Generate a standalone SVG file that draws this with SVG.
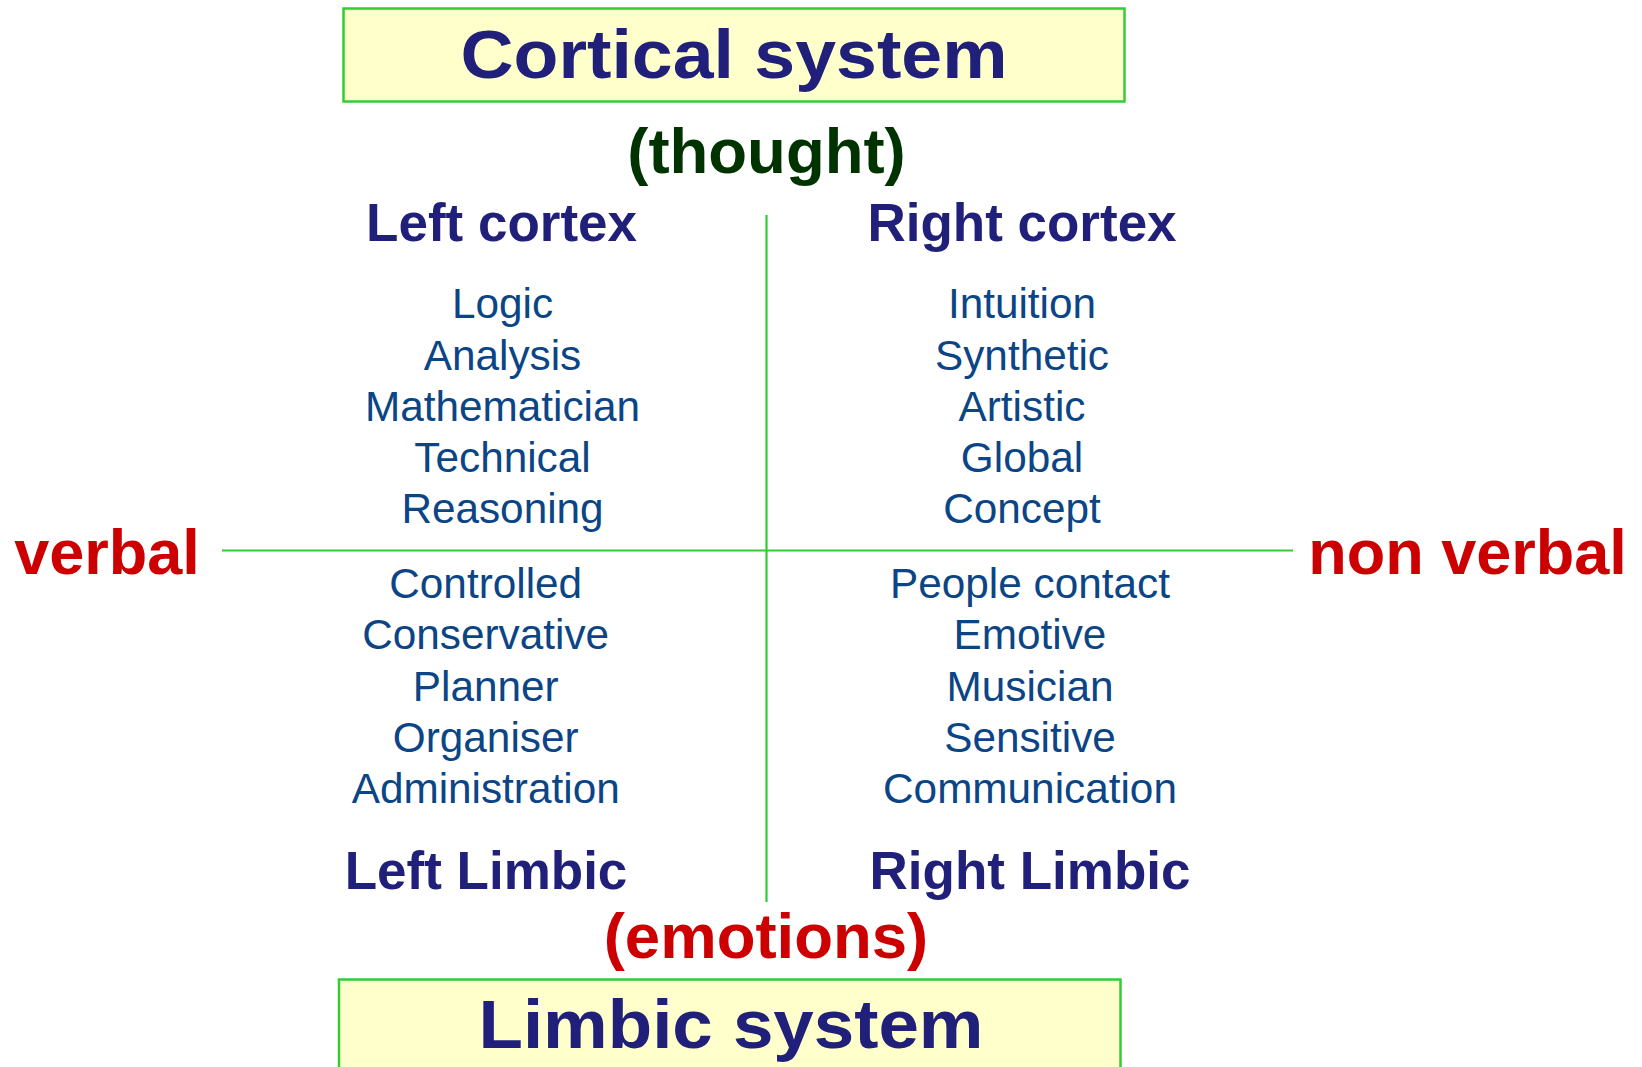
<svg xmlns="http://www.w3.org/2000/svg" width="1642" height="1067" viewBox="0 0 1642 1067">
  <style>
    .box { fill: #ffffcc; stroke: #33cc33; stroke-width: 2.5; }
    .axis { stroke: #33cc33; stroke-width: 2.2; fill: none; }
    .title { font-family: "Liberation Sans", Arial, sans-serif; font-weight: bold; font-size: 68px; fill: #20207a; text-anchor: middle; }
    .head { font-family: "Liberation Sans", Arial, sans-serif; font-weight: bold; font-size: 53px; fill: #20207a; text-anchor: middle; }
    .item { font-family: "Liberation Sans", Arial, sans-serif; font-size: 42.3px; fill: #0b4585; text-anchor: middle; }
    .sub { font-family: "Liberation Sans", Arial, sans-serif; font-weight: bold; font-size: 63.5px; text-anchor: middle; }
    .side { font-family: "Liberation Sans", Arial, sans-serif; font-weight: bold; font-size: 63px; fill: #cc0000; text-anchor: middle; }
  </style>
  <rect width="1642" height="1067" fill="#ffffff"/>

  <!-- axes splitting the four quadrants -->
  <g id="connectors">
    <line class="axis" x1="766.5" y1="215" x2="766.5" y2="902"/>
    <line class="axis" x1="222" y1="550.5" x2="1293" y2="550.5"/>
  </g>

  <g id="cortical-system">
    <rect class="box" x="343.5" y="8.5" width="781" height="93"/>
    <text class="title" x="734" y="77.5" textLength="547" lengthAdjust="spacingAndGlyphs">Cortical system</text>
  </g>
  <g id="thought">
    <text class="sub" x="766.5" y="173" fill="#003300">(thought)</text>
  </g>

  <g id="left-cortex">
    <text class="head" x="501.6" y="241">Left cortex</text>
    <text class="item" x="502.5" y="318">Logic</text>
    <text class="item" x="502.5" y="369.5">Analysis</text>
    <text class="item" x="502.5" y="420.5">Mathematician</text>
    <text class="item" x="502.5" y="471.5">Technical</text>
    <text class="item" x="502.5" y="522.5">Reasoning</text>
  </g>

  <g id="right-cortex">
    <text class="head" x="1022" y="241">Right cortex</text>
    <text class="item" x="1022" y="318">Intuition</text>
    <text class="item" x="1022" y="369.5">Synthetic</text>
    <text class="item" x="1022" y="420.5">Artistic</text>
    <text class="item" x="1022" y="471.5">Global</text>
    <text class="item" x="1022" y="522.5">Concept</text>
  </g>

  <g id="left-limbic">
    <text class="item" x="485.7" y="597.5">Controlled</text>
    <text class="item" x="485.7" y="649">Conservative</text>
    <text class="item" x="485.7" y="700.5">Planner</text>
    <text class="item" x="485.7" y="751.5">Organiser</text>
    <text class="item" x="485.7" y="802.5">Administration</text>
    <text class="head" x="486" y="889">Left Limbic</text>
  </g>

  <g id="right-limbic">
    <text class="item" x="1030" y="597.5">People contact</text>
    <text class="item" x="1030" y="649">Emotive</text>
    <text class="item" x="1030" y="700.5">Musician</text>
    <text class="item" x="1030" y="751.5">Sensitive</text>
    <text class="item" x="1030" y="802.5">Communication</text>
    <text class="head" x="1030" y="889">Right Limbic</text>
  </g>

  <g id="verbal">
    <text class="side" x="107" y="574">verbal</text>
  </g>
  <g id="non-verbal">
    <text class="side" x="1467.5" y="574">non verbal</text>
  </g>

  <g id="emotions">
    <text class="sub" x="766" y="958" fill="#cc0000">(emotions)</text>
  </g>

  <g id="limbic-system">
    <rect class="box" x="339" y="979.5" width="781.5" height="120"/>
    <text class="title" x="731" y="1048" textLength="505" lengthAdjust="spacingAndGlyphs">Limbic system</text>
  </g>
</svg>
